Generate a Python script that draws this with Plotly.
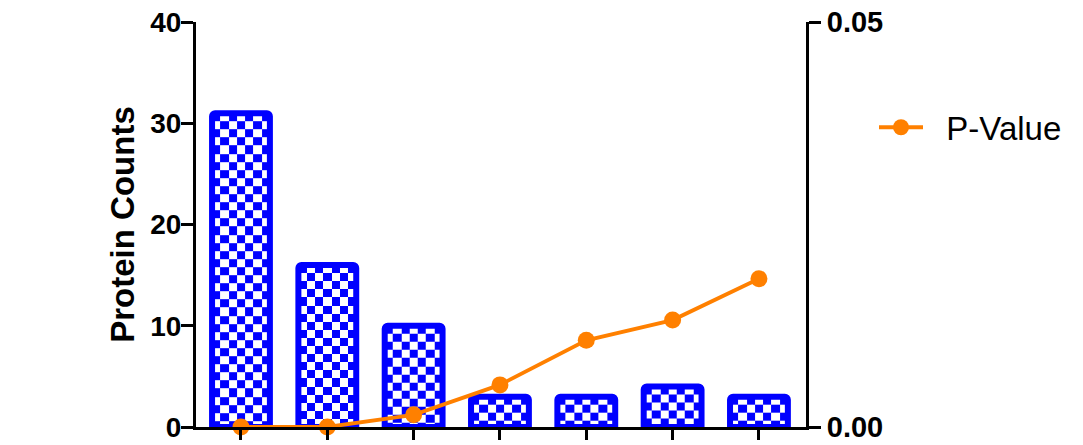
import numpy as np
import plotly.graph_objects as go

# ---- data ----
categories = ["1", "2", "3", "4", "5", "6", "7"]
protein_counts = [31, 16, 10, 3, 3, 4, 3]
p_values = [0.0, 0.0, 0.0015, 0.0052, 0.0107, 0.0132, 0.0183]
left_ticks = [0, 10, 20, 30, 40]
right_ticks = [0.0, 0.05]
right_tick_labels = ["0.00", "0.05"]
series_name = "P-Value"

BLUE = "#0000FF"
ORANGE = "#FF8000"
BAR_W = 0.67
NCELL_X = 7
CELL_X = BAR_W / NCELL_X
CELL_Y = 0.8

xpos = list(range(len(categories)))

fig = go.Figure()

# checkerboard texture inside bars (heatmap per bar)
for xc, v in zip(xpos, protein_counts):
    xe = [xc - BAR_W / 2 + k * CELL_X for k in range(NCELL_X + 1)]
    ye = []
    y = float(v)
    while y > 0:
        ye.append(y)
        y -= CELL_Y
    ye.append(0.0)
    ye = ye[::-1]
    ny = len(ye) - 1
    z = [[((i + j + (ny % 2)) % 2) for i in range(NCELL_X)] for j in range(ny)]
    fig.add_trace(go.Heatmap(
        x=xe, y=ye, z=z, zmin=0, zmax=1,
        colorscale=[[0, "white"], [1, BLUE]],
        showscale=False, hoverinfo="skip", xaxis="x", yaxis="y",
        showlegend=False,
    ))

fig.add_trace(go.Bar(
    x=xpos, y=protein_counts, width=BAR_W,
    marker=dict(color="rgba(0,0,0,0)", line=dict(color=BLUE, width=6)),
    showlegend=False, hoverinfo="skip", yaxis="y",
))

fig.add_trace(go.Scatter(
    x=xpos, y=p_values, yaxis="y2", mode="lines+markers",
    name="\u00a0\u00a0" + series_name,
    line=dict(color=ORANGE, width=3.8),
    marker=dict(color=ORANGE, size=17, symbol="circle"),
    cliponaxis=False,
))

fig.update_layout(
    width=1083, height=445,
    margin=dict(l=196, r=277, t=22, b=18),
    paper_bgcolor="white", plot_bgcolor="white",
    barcornerradius=3,
    showlegend=True,
    legend=dict(x=(874 - 196) / 610, y=0.74, xanchor="left", yanchor="middle",
                font=dict(family="Liberation Sans", size=33, color="black"),
                bgcolor="rgba(0,0,0,0)", itemwidth=44),
    xaxis=dict(
        range=[-0.521, 6.545], tickmode="array", tickvals=xpos,
        ticktext=categories, showticklabels=False, automargin=False,
        showline=True, linecolor="black", linewidth=3,
        ticks="outside", ticklen=10, tickwidth=3, tickcolor="black",
        showgrid=False, zeroline=False,
    ),
    yaxis=dict(
        range=[0, 40], tickvals=left_ticks, automargin=False,
        showline=True, linecolor="black", linewidth=3,
        ticks="outside", ticklen=12, tickwidth=3, tickcolor="black",
        ticklabelstandoff=-6,
        tickfont=dict(family="Liberation Sans", size=28, color="black", weight="bold"),
        showgrid=False, zeroline=False,
        title=dict(text="Protein Counts", standoff=6,
                   font=dict(family="Liberation Sans", size=33, color="black", weight="bold")),
    ),
    yaxis2=dict(
        range=[0, 0.05], overlaying="y", side="right", automargin=False,
        tickvals=right_ticks, ticktext=right_tick_labels,
        showline=True, linecolor="black", linewidth=3,
        ticks="outside", ticklen=12, tickwidth=3, tickcolor="black",
        tickfont=dict(family="Liberation Sans", size=29, color="black", weight="bold"),
        showgrid=False, zeroline=False,
    ),
)

fig.write_html("out.html")
